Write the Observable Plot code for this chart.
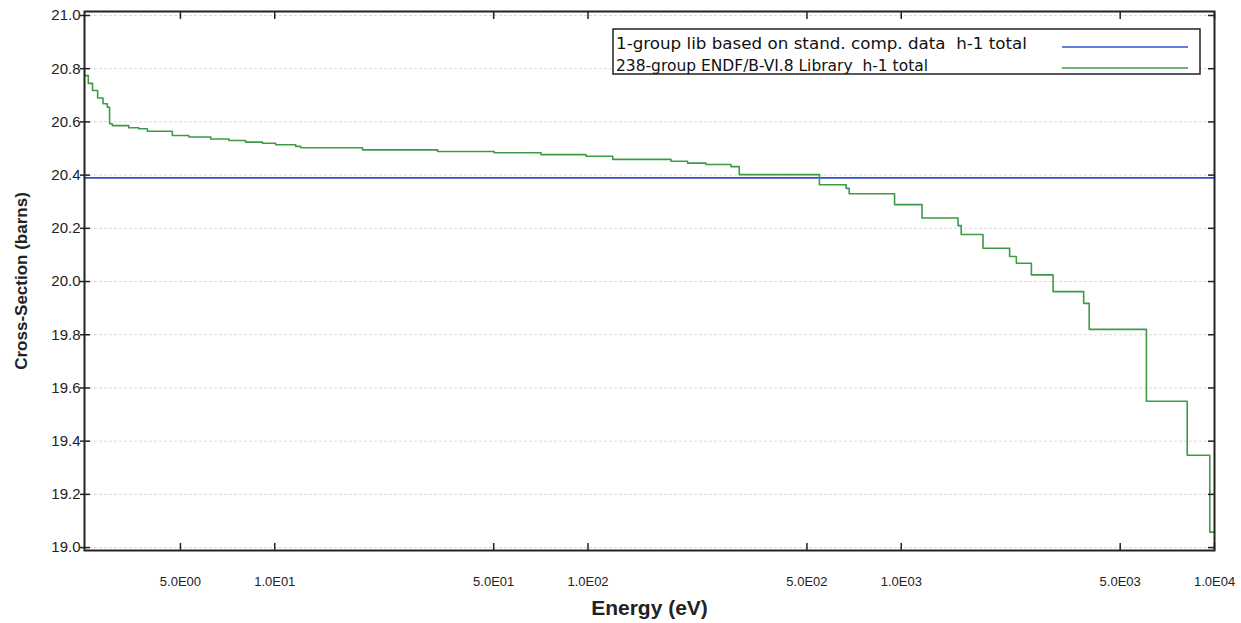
<!DOCTYPE html>
<html>
<head>
<meta charset="utf-8">
<script src="https://cdn.jsdelivr.net/npm/d3@7"></script>
<script src="https://cdn.jsdelivr.net/npm/@observablehq/plot@0.6"></script>
<style>
  html, body { margin: 0; padding: 0; background: #fff; }
  #chart { width: 1241px; height: 623px; }
  #chart svg { display: block; }
  g[aria-label="y-axis label"] text { font: bold 17px "Liberation Sans", Arial, sans-serif; fill: #222; }
  g[aria-label="x-axis label"] text { font: bold 21px "Liberation Sans", Arial, sans-serif; fill: #222; }
</style>
</head>
<body>
<div id="chart"></div>
<script>
// 238-group ENDF/B-VI.8 library, H-1 total cross section:
// group boundaries in eV (ascending) and the group value in barns on each interval
const groupEdges = [
  2.47, 2.54, 2.62, 2.72, 2.83, 2.92, 2.97, 3.03, 3.42, 3.68,
  3.92, 4.71, 5.32, 6.25, 7.14, 8.07, 9.14, 10.07, 11.67, 12.1,
  19.06, 33.1, 50.2, 70.8, 98.6, 120, 184, 208, 238, 286,
  304, 548, 667, 682, 952, 1165, 1518, 1554, 1824, 2218,
  2330, 2603, 3053, 3822, 3981, 6063, 8183, 9660, 10000
];
const groupXS = [
  20.774, 20.745, 20.718, 20.690, 20.668, 20.655, 20.593, 20.586, 20.578, 20.574,
  20.565, 20.549, 20.543, 20.536, 20.530, 20.524, 20.520, 20.514, 20.508, 20.503,
  20.495, 20.489, 20.484, 20.477, 20.471, 20.459, 20.452, 20.445, 20.440, 20.432,
  20.402, 20.364, 20.350, 20.330, 20.289, 20.239, 20.210, 20.177, 20.125, 20.094,
  20.069, 20.025, 19.962, 19.918, 19.820, 19.550, 19.347, 19.058
];

// 1-group library collapsed from standard composition data
const oneGroupEnergy = [2.47, 10000];
const oneGroupXS = [20.39, 20.39];

// Axis ticks
const energyTicks = [5, 10, 50, 100, 500, 1000, 5000, 10000];
const energyTickLabels = ["5.0E00", "1.0E01", "5.0E01", "1.0E02", "5.0E02", "1.0E03", "5.0E03", "1.0E04"];
const xsTicks = [19.0, 19.2, 19.4, 19.6, 19.8, 20.0, 20.2, 20.4, 20.6, 20.8, 21.0];

const seriesNames = [
  "1-group lib based on stand. comp. data  h-1 total",
  "238-group ENDF/B-VI.8 Library  h-1 total"
];
const seriesColors = ["#3050cc", "#3d9b45"];

// Step points: each group value starts at its lower edge; the last value is held to the top edge
const stepPts = groupEdges.map((e, i) => ({e, xs: groupXS[Math.min(i, groupXS.length - 1)]}));
const flatPts = oneGroupEnergy.map((e, i) => ({e, xs: oneGroupXS[i]}));
const energyLabelRows = energyTicks.map((e, i) => ({e, label: energyTickLabels[i]}));

const plot = Plot.plot({
  width: 1241,
  height: 623,
  marginLeft: 84,
  marginRight: 27,
  marginTop: 11,
  marginBottom: 73,
  style: {fontFamily: "'Liberation Sans', Arial, sans-serif", color: "#222", background: "#fff"},
  x: {type: "log", domain: [2.47, 10000]},
  y: {domain: [18.989, 21.015]},
  marks: [
    Plot.gridY(xsTicks, {stroke: "#999", strokeOpacity: 0.35, strokeDasharray: "3,2"}),
    Plot.line(flatPts, {x: "e", y: "xs", stroke: seriesColors[0], strokeWidth: 1.8}),
    Plot.line(stepPts, {x: "e", y: "xs", curve: "step-after", stroke: seriesColors[1], strokeWidth: 1.6}),
    Plot.frame({stroke: "#222", strokeWidth: 2}),
    // tick marks straddling the left edge, inward on the right edge
    Plot.axisY(xsTicks, {anchor: "left", tickSize: 10, dx: 6, text: null, label: null, strokeWidth: 1.5}),
    Plot.axisY(xsTicks, {anchor: "right", tickSize: 7, dx: -7, text: null, label: null, strokeWidth: 1.5}),
    Plot.axisY(xsTicks, {
      anchor: "left", tickSize: 0, tickPadding: 4, fontSize: 15,
      tickFormat: d => d.toFixed(1),
      label: "Cross-Section (barns)", labelAnchor: "center", labelOffset: 70, labelArrow: "none"
    }),
    // inward tick marks on bottom and top edges
    Plot.axisX(energyTicks, {anchor: "bottom", tickSize: 7, dy: -7, text: null, label: null, strokeWidth: 1.5}),
    Plot.axisX(energyTicks, {anchor: "top", tickSize: 7, dy: 7, text: null, label: null, strokeWidth: 1.5}),
    Plot.axisX(energyTicks, {
      anchor: "bottom", tickSize: 0, text: null,
      label: "Energy (eV)", labelAnchor: "center", labelOffset: 64, labelArrow: "none"
    }),
    // energy tick labels in E-notation
    Plot.text(energyLabelRows, {
      x: "e", text: "label", frameAnchor: "bottom", lineAnchor: "top", dy: 26,
      fontSize: 13, fill: "#222"
    })
  ]
});

document.getElementById("chart").appendChild(plot);

// Legend box in the upper right of the plot area
const svg = d3.select(plot);
const lg = svg.append("g").attr("class", "legend").attr("text-anchor", "start");
lg.append("rect")
  .attr("x", 613).attr("y", 29).attr("width", 587).attr("height", 45)
  .attr("fill", "#fff").attr("stroke", "#222").attr("stroke-width", 1.5);
const rows = [
  {name: seriesNames[0], color: seriesColors[0], base: 49, len: 411, ly: 47},
  {name: seriesNames[1], color: seriesColors[1], base: 71, len: 312, ly: 68}
];
rows.forEach(r => {
  lg.append("text")
    .attr("x", 616).attr("y", r.base)
    .attr("text-anchor", "start")
    .attr("textLength", r.len).attr("lengthAdjust", "spacingAndGlyphs")
    .style("font", "15px 'DejaVu Sans', sans-serif").style("white-space", "pre")
    .attr("fill", "#111")
    .text(r.name);
  lg.append("line")
    .attr("x1", 1062).attr("x2", 1188).attr("y1", r.ly).attr("y2", r.ly)
    .attr("stroke", r.color).attr("stroke-width", 1.5);
});
</script>
</body>
</html>
